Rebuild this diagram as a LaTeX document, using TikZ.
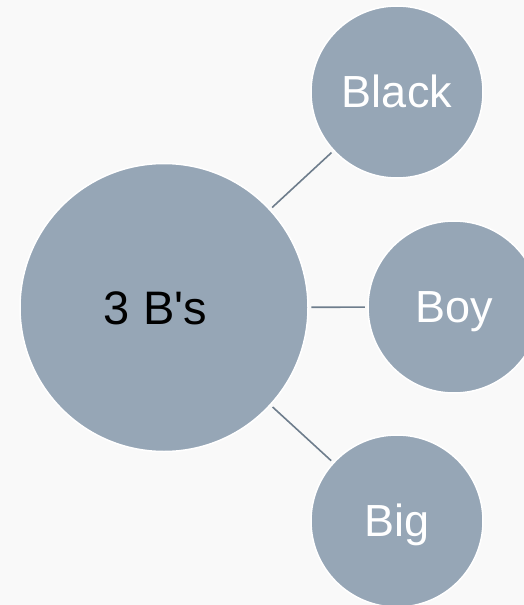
\documentclass[tikz,border=0pt]{standalone}
\usepackage{fontspec}
\setmainfont{Liberation Sans}[Ligatures=TeXOff]
\definecolor{bgc}{HTML}{F9F9F9}
\definecolor{circfill}{HTML}{96A6B6}
\definecolor{linkc}{HTML}{6E7D8C}
\tikzset{
  bub/.style={circle, fill=circfill, draw=white, line width=1.5pt, inner sep=0pt, text depth=0pt},
  hub/.style={bub, minimum size=288pt, text=black, text height=33pt, font=\fontsize{47}{50}\selectfont},
  leaf/.style={bub, minimum size=172pt, text=white, text height=30pt, font=\fontsize{45}{48}\selectfont},
  link/.style={draw=linkc, line width=1.6pt, shorten <=2.5pt, shorten >=2.5pt}
}
\begin{document}
\begin{tikzpicture}[x=1pt,y=-1pt]
\useasboundingbox (0,0) rectangle (524,605);
\clip (0,0) rectangle (524,605);
\fill[bgc] (0,0) rectangle (524,605);
\node[hub] (hub) at (164,307.5) {3 B's\hspace*{17pt}};
\node[leaf] (black) at (397,92) {Black};
\node[leaf] (boy) at (454,307) {Boy};
\node[leaf] (big) at (397,521) {Big};
\draw[link] (hub) -- (black);
\draw[link] (hub) -- (boy);
\draw[link] (hub) -- (big);
\end{tikzpicture}
\end{document}
